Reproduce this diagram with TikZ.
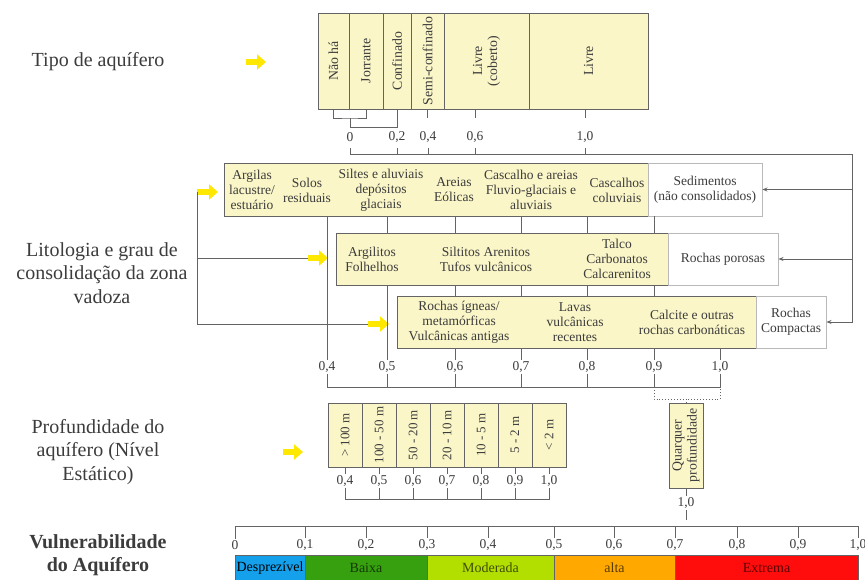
\documentclass[tikz,border=0pt]{standalone}
\usepackage{fontspec}
\setmainfont{Liberation Serif}
\usetikzlibrary{arrows.meta}
\definecolor{creme}{RGB}{250,246,200}
\definecolor{linha}{RGB}{100,100,100}
\definecolor{texto}{RGB}{60,60,60}
\definecolor{amarelo}{RGB}{255,232,0}
\definecolor{azul}{RGB}{20,160,235}
\definecolor{verde}{RGB}{55,160,15}
\definecolor{lima}{RGB}{178,222,0}
\definecolor{laranja}{RGB}{255,168,0}
\definecolor{vermelho}{RGB}{255,12,12}
\begin{document}
\begin{tikzpicture}[x=1pt,y=-1pt,
  fio/.style={draw=linha,line width=0.9pt},
  caixa/.style={draw=linha,line width=0.9pt,fill=creme,inner sep=1pt,text=texto,align=center,font=\fontsize{13.5}{15}\selectfont},
  branca/.style={caixa,draw=linha!45,fill=white},
  deitada/.style={caixa,rotate=90,font=\fontsize{13.8}{15}\selectfont},
  rotulo/.style={text=texto,align=center,font=\fontsize{13.5}{15}\selectfont},
  valor/.style={text=texto,inner sep=1pt,font=\fontsize{13.5}{15}\selectfont},
  titulo/.style={text=texto,align=center,font=\fontsize{20}{23.5}\selectfont},
  faixa/.style={draw=linha,line width=0.6pt,fill=#1,text=#1!35!black,minimum height=26pt,inner sep=0pt,font=\fontsize{14}{15}\selectfont},
  seta/.style={amarelo,line width=6.5pt,-{Triangle[length=9pt,width=15pt]}},
  liga/.style={fio,-{Stealth[length=5pt,width=4pt]}}]
\useasboundingbox (0,0) rectangle (865,579);
% titulos
\node[titulo] (tipo) at (98,62) {Tipo de aquífero};
\node[titulo] (lito) at (102,273) {Litologia e grau de\\consolidação da zona\\vadoza};
\node[titulo] (prof) at (98,452) {Profundidade do\\aquífero (Nível\\Estático)};
\node[titulo,font=\fontsize{20}{23.5}\selectfont\bfseries] (vuln) at (98,555) {Vulnerabilidade\\do Aquífero};

% tipo de aquifero
\node[deitada,minimum width=96pt,minimum height=31pt] (t1) at (333.5,61) {Não há};
\node[deitada,minimum width=96pt,minimum height=34pt] (t2) at (366,61) {Jorrante};
\node[deitada,minimum width=96pt,minimum height=28pt] (t3) at (397,61) {Confinado};
\node[deitada,minimum width=96pt,minimum height=33pt] (t4) at (427.5,61) {Semi-confinado};
\node[deitada,minimum width=96pt,minimum height=85pt] (t5) at (486.5,61) {Livre\\(coberto)};
\node[deitada,minimum width=96pt,minimum height=119pt] (t6) at (588.5,61) {Livre};
\draw[seta] (246,62) -- (266,62);
\draw[fio] (t1.west) |- (350,118) -| (t2.west);
\draw[fio] (350,118) -- (350,127) -| (t3.west);
\draw[fio] (t4.west) -- ++(0,9);
\draw[fio] (475,109) -- (475,118);
\draw[fio] (585,109) -- (585,118);
\node[valor] (v0) at (350,137) {0};
\node[valor] (v2) at (397,137) {0,2};
\node[valor] (v4) at (428,137) {0,4};
\node[valor] (v6) at (475,137) {0,6};
\node[valor] (v10) at (585,137) {1,0};
\coordinate (eixo1) at (852,154);
\draw[fio] (v0 |- eixo1) -- (eixo1);
\draw[fio] (v0 |- eixo1) -- ++(0,-6);
\draw[fio] (v2 |- eixo1) -- ++(0,-6);
\draw[fio] (v4 |- eixo1) -- ++(0,-6);
\draw[fio] (v6 |- eixo1) -- ++(0,-6);
\draw[fio] (v10 |- eixo1) -- ++(0,-6);

% litologia
\node[caixa,minimum width=424pt,minimum height=53pt] (r1) at (436,189.5) {};
\node[branca,minimum width=114pt,minimum height=53pt] (s1) at (705,189.5) {Sedimentos\\(não consolidados)};
\node[rotulo] (a1) at (252,190) {Argilas\\lacustre/\\estuário};
\node[rotulo] (a2) at (307,190) {Solos\\residuais};
\node[rotulo] (a3) at (381,190) {Siltes e aluviais\\depósitos\\glaciais};
\node[rotulo] (a4) at (454,190) {Areias\\Eólicas};
\node[rotulo] (a5) at (531,190) {Cascalho e areias\\Fluvio-glaciais e\\aluviais};
\node[rotulo] (a6) at (617,190) {Cascalhos\\coluviais};
\node[caixa,minimum width=332pt,minimum height=52pt] (r2) at (502,259) {};
\node[branca,minimum width=110pt,minimum height=52pt] (s2) at (723,259) {Rochas porosas};
\node[rotulo] (b1) at (372,259) {Argilitos\\Folhelhos};
\node[rotulo] (b2) at (486,259) {Siltitos Arenitos\\Tufos vulcânicos};
\node[rotulo] (b3) at (617,259) {Talco\\Carbonatos\\Calcarenitos};
\node[caixa,minimum width=359pt,minimum height=52pt] (r3) at (576.5,322) {};
\node[branca,minimum width=70pt,minimum height=52pt] (s3) at (791,322) {Rochas\\Compactas};
\node[rotulo] (c1) at (459,322) {Rochas ígneas/\\metamórficas\\Vulcânicas antigas};
\node[rotulo] (c2) at (575,322) {Lavas\\vulcânicas\\recentes};
\node[rotulo] (c3) at (692,322) {Calcite e outras\\rochas carbonáticas};
\draw[liga] (eixo1) |- (s3.east);
\draw[liga] (eixo1 |- s1.east) -- (s1.east);
\draw[liga] (eixo1 |- s2.east) -- (s2.east);
\coordinate (esq) at (197,192);
\draw[seta] (esq) -- (218,192);
\draw[fio] (esq) |- (308,258);
\draw[seta] (308,258) -- (328,258);
\draw[fio] (esq) |- (368,324);
\draw[seta] (368,324) -- (389,324);

\coordinate (eixo2) at (0,387);
\node[valor] (m4) at (327,367) {0,4};
\node[valor] (m5) at (387,367) {0,5};
\node[valor] (m6) at (455,367) {0,6};
\node[valor] (m7) at (521,367) {0,7};
\node[valor] (m8) at (587,367) {0,8};
\node[valor] (m9) at (654,367) {0,9};
\node[valor] (m10) at (720,367) {1,0};
\newcommand\haste[1]{
\draw[fio] (#1 |- r1.south) -- (#1 |- r2.north);
\draw[fio] (#1 |- r2.south) -- (#1 |- r3.north);
\draw[fio] (#1 |- r3.south) -- (#1.north);
\draw[fio] (#1.south) -- (#1 |- eixo2);
}
\draw[fio] (m4 |- r1.south) -- (m4.north);
\draw[fio] (m4.south) -- (m4 |- eixo2);
\draw[fio] (m5 |- r1.south) -- (m5 |- r2.north);
\draw[fio] (m5 |- r2.south) -- (m5.north);
\draw[fio] (m5.south) -- (m5 |- eixo2);
\haste{m6}
\haste{m7}
\haste{m8}
\haste{m9}
\draw[fio] (m10 |- r3.south) -- (m10.north);
\draw[fio] (m10.south) -- (m10 |- eixo2);
\draw[fio] (m4 |- eixo2) -- (m10 |- eixo2);
\draw[fio,dotted] (m9 |- eixo2) -- ++(0,12) -| (m10 |- eixo2);

% profundidade
\draw[seta] (283,452) -- (303,452);
\node[deitada,font=\fontsize{13}{14}\selectfont,minimum width=64pt,minimum height=34pt] (d1) at (345,435) {> 100 m};
\node[deitada,font=\fontsize{13}{14}\selectfont,minimum width=64pt,minimum height=34pt] (d2) at (379,435) {100 - 50 m};
\node[deitada,font=\fontsize{13}{14}\selectfont,minimum width=64pt,minimum height=34pt] (d3) at (413,435) {50 - 20 m};
\node[deitada,font=\fontsize{13}{14}\selectfont,minimum width=64pt,minimum height=34pt] (d4) at (447,435) {20 - 10 m};
\node[deitada,font=\fontsize{13}{14}\selectfont,minimum width=64pt,minimum height=34pt] (d5) at (481,435) {10 - 5 m};
\node[deitada,font=\fontsize{13}{14}\selectfont,minimum width=64pt,minimum height=34pt] (d6) at (515,435) {5 - 2 m};
\node[deitada,font=\fontsize{13}{14}\selectfont,minimum width=64pt,minimum height=34pt] (d7) at (549,435) {< 2 m};
\coordinate (eixo3) at (0,499);
\node[valor] (p4) at (345,481) {0,4};
\node[valor] (p5) at (379,481) {0,5};
\node[valor] (p6) at (413,481) {0,6};
\node[valor] (p7) at (447,481) {0,7};
\node[valor] (p8) at (481,481) {0,8};
\node[valor] (p9) at (515,481) {0,9};
\node[valor] (p10) at (549,481) {1,0};
\draw[fio] (d1.west) -- (p4.north);
\draw[fio] (d2.west) -- (p5.north);
\draw[fio] (d3.west) -- (p6.north);
\draw[fio] (d4.west) -- (p7.north);
\draw[fio] (d5.west) -- (p8.north);
\draw[fio] (d6.west) -- (p9.north);
\draw[fio] (d7.west) -- (p10.north);
\draw[fio] (p4.south) |- (p5 |- eixo3) -- (p5.south);
\draw[fio] (p5 |- eixo3) -| (p6.south);
\draw[fio] (p6 |- eixo3) -| (p7.south);
\draw[fio] (p7 |- eixo3) -| (p8.south);
\draw[fio] (p8 |- eixo3) -| (p9.south);
\draw[fio] (p9 |- eixo3) -| (p10.south);
\node[deitada,minimum width=85pt,minimum height=34pt] (q) at (686,445.5) {Quarquer\\profundidade};
\node[valor] (q1) at (686,503) {1,0};
\coordinate (fim) at (686,520);
\draw[fio,dotted] (q.east) -- ++(0,-4);
\draw[fio] (q.west) -- (q1.north);
\draw[fio] (q1.south) -- (fim);

% vulnerabilidade
\coordinate (eixo4) at (0,526);
\node[valor] (w0) at (235,545) {0};
\node[valor] (w1) at (305,545) {0,1};
\node[valor] (w2) at (366,545) {0,2};
\node[valor] (w3) at (427,545) {0,3};
\node[valor] (w4) at (488,545) {0,4};
\node[valor] (w5) at (554,545) {0,5};
\node[valor] (w6) at (614,545) {0,6};
\node[valor] (w7) at (675,545) {0,7};
\node[valor] (w8) at (737,545) {0,8};
\node[valor] (w9) at (798,545) {0,9};
\node[valor] (w10) at (858,545) {1,0};
\newcommand\tique[1]{\draw[fio] (#1 |- eixo4) -- (#1.north);}
\draw[fio] (w0 |- eixo4) -- (w10 |- eixo4);
\tique{w0} \tique{w1} \tique{w2} \tique{w3} \tique{w4} \tique{w5}
\tique{w6} \tique{w7} \tique{w8} \tique{w9} \tique{w10}
\node[faixa=azul,text=black,minimum width=70pt] (f1) at (270,568) {Desprezível};
\node[faixa=verde,minimum width=122pt] (f2) at (366,568) {Baixa};
\node[faixa=lima,minimum width=127pt] (f3) at (490.5,568) {Moderada};
\node[faixa=laranja,minimum width=121pt] (f4) at (614.5,568) {alta};
\node[faixa=vermelho,minimum width=183pt] (f5) at (766.5,568) {Extrema};
\end{tikzpicture}
\end{document}
